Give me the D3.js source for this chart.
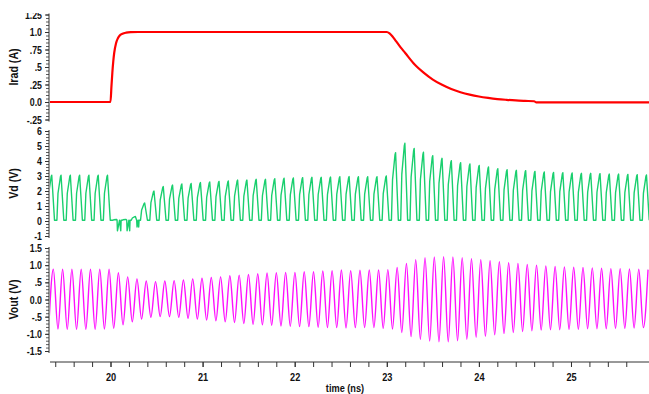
<!DOCTYPE html>
<html><head><meta charset="utf-8">
<script src="https://cdn.jsdelivr.net/npm/d3@7"></script>
<style>
html,body{margin:0;padding:0;background:#fff;}
svg{display:block;}
text{font-family:"Liberation Sans","Arial",sans-serif;font-weight:bold;fill:#111;}
</style></head><body>
<svg id="c" width="649" height="394"></svg>
<script>
// ---------- data ----------
// x axis
const xTickValues = [20, 21, 22, 23, 24, 25];
const xTickLabels = ["20", "21", "22", "23", "24", "25"];
const xDomain = [19.343, 25.847];
const xLabel = "time (ns)";

// Irad (A) : piecewise samples of the pulse
const iradTime = [19.343, 20.0, 20.01, 20.02, 20.03, 20.04, 20.06, 20.08, 20.1, 20.13, 20.17, 20.22, 20.3, 23.0, 23.03, 23.06, 23.1, 23.15, 23.2, 23.3, 23.4, 23.5, 23.6, 23.7, 23.8, 23.9, 24.0, 24.1, 24.2, 24.3, 24.4, 24.5, 24.6, 24.62, 25.847];
const iradValue = [0, 0, 0.22, 0.42, 0.58, 0.7, 0.84, 0.91, 0.95, 0.975, 0.99, 0.997, 1.0, 1.0, 0.98, 0.94, 0.87, 0.78, 0.7, 0.54, 0.42, 0.32, 0.245, 0.185, 0.14, 0.105, 0.078, 0.058, 0.042, 0.031, 0.022, 0.016, 0.011, -0.004, -0.006];
const iradTicks = [-0.25, 0, 0.25, 0.5, 0.75, 1.0, 1.25];
const iradTickLabels = ["-.25", "0.0", ".25", ".5", ".75", "1.0", "1.25"];

// Vd (V) : one pulse per period, peak value of each pulse
const vdStart = 19.362;     // time of first pulse peak (ns)
const period = 0.1009;      // pulse period (ns)
const vdBase = 0.05;
const vdPeak = [3.05, 3.05, 3.05, 3.05, 3.05, 3.05, 3.05,
  0.1, 0.1, 0.3,
  1.2, 2.0, 2.3, 2.4, 2.47, 2.5, 2.56, 2.6, 2.64, 2.67, 2.73, 2.73, 2.78, 2.78, 2.82, 2.85, 2.87, 2.89, 2.91, 2.91, 2.93, 2.95, 2.96,
  2.95, 2.95, 2.95, 3.0,
  4.56, 5.18, 4.84, 4.58, 4.36, 4.18, 4.02, 3.89, 3.8, 3.71, 3.6, 3.49, 3.42, 3.38, 3.36, 3.31, 3.27, 3.24, 3.22, 3.2, 3.18, 3.18, 3.16, 3.13, 3.13, 3.11, 3.09, 3.07];
const vdDipIndex = [7, 8, 9];
const vdDipValue = [-0.65, -0.65, -0.4];
const vdDipStart = [0.003, 0.007, 0.014];
const vdDipEnd = [0.047, 0.043, 0.04];
const vdTicks = [-1, 0, 1, 2, 3, 4, 5, 6];
const vdTickLabels = ["-1", "0", "1", "2", "3", "4", "5", "6"];

// Vout (V) : alternating extremes, trough before each peak
const voStart = 19.379;
const voPeak = [0.88, 0.88, 0.88, 0.88, 0.88, 0.88, 0.88, 0.78, 0.66, 0.6, 0.54, 0.52, 0.54, 0.55, 0.57, 0.6, 0.62, 0.64, 0.66, 0.69, 0.71, 0.73, 0.75, 0.77, 0.78, 0.79, 0.79, 0.81, 0.81, 0.83, 0.84, 0.86,
  0.84, 0.85, 0.86, 0.86, 0.87, 0.93, 1.05, 1.16, 1.22, 1.24, 1.25, 1.24, 1.22, 1.19, 1.16, 1.13, 1.1, 1.07, 1.05, 1.02, 1.0, 0.98, 0.96, 0.95, 0.94, 0.93, 0.92, 0.91, 0.9, 0.9, 0.89, 0.88, 0.87];
const voTrough = [-0.86,
  -0.86, -0.87, -0.87, -0.87, -0.87, -0.86, -0.84, -0.74, -0.65, -0.57, -0.52, -0.5, -0.5, -0.52, -0.55, -0.57, -0.6, -0.62, -0.65, -0.67, -0.7, -0.72, -0.74, -0.75, -0.77, -0.78, -0.79, -0.79, -0.81, -0.82, -0.82, -0.83,
  -0.82, -0.82, -0.82, -0.84, -0.86, -0.96, -1.08, -1.16, -1.21, -1.23, -1.23, -1.2, -1.16, -1.1, -1.07, -1.03, -0.99, -0.96, -0.93, -0.91, -0.89, -0.88, -0.88, -0.87, -0.87, -0.85, -0.85, -0.85, -0.84, -0.84, -0.83, -0.82];
const voTicks = [-1.5, -1.0, -0.5, 0, 0.5, 1.0, 1.5];
const voTickLabels = ["-1.5", "-1.0", "-.5", "0.0", ".5", "1.0", "1.5"];

// ---------- drawing ----------
const svg = d3.select("#c");
const X0 = 50, X1 = 649, YAX = 49, XAXY = 362, SX = 0.8;
const x = d3.scaleLinear().domain(xDomain).range([X0, X1]);

const defs = svg.append("defs");
defs.append("clipPath").attr("id", "plotclip")
  .append("rect").attr("x", 50).attr("y", 0).attr("width", 600).attr("height", 394);
defs.append("clipPath").attr("id", "topclip")
  .append("rect").attr("x", -60).attr("y", 13).attr("width", 120).attr("height", 400);

function narrow(sel) {
  sel.each(function () {
    const t = d3.select(this);
    const xx = +t.attr("x") || 0;
    t.attr("x", xx / SX).attr("transform", `scale(${SX},1)`);
  });
}

const panels = [
  {name: "Irad (A)", dom: [-0.25, 1.25], rng: [119.5, 14.5], ticks: iradTicks, labels: iradTickLabels, minor: 0.05, color: "#ff0000", width: 2.2},
  {name: "Vd (V)", dom: [-1, 6], rng: [236, 131], ticks: vdTicks, labels: vdTickLabels, minor: 0.2, color: "#19cf6e", width: 1.4},
  {name: "Vout (V)", dom: [-1.5, 1.5], rng: [351, 248], ticks: voTicks, labels: voTickLabels, minor: 0.1, color: "#ff10ff", width: 1.4}
];
panels.forEach(p => { p.y = d3.scaleLinear().domain(p.dom).range(p.rng); });

// build series
const iradPts = iradTime.map((t, i) => [t, iradValue[i]]);

const vdPts = [];
vdPeak.forEach((h, k) => {
  const tp = vdStart + k * period;
  vdPts.push([tp - 0.045, vdBase]);
  vdPts.push([tp - 0.033, vdBase + 0.6 * (h - vdBase)]);
  vdPts.push([tp - 0.006, vdBase + 0.97 * (h - vdBase)]);
  vdPts.push([tp, h]);
  vdPts.push([tp + 0.03, vdBase]);
  const di = vdDipIndex.indexOf(k);
  if (di >= 0) {
    vdPts.push([tp + vdDipStart[di], vdBase]);
    vdPts.push([tp + vdDipStart[di] + 0.004, vdDipValue[di]]);
    vdPts.push([tp + vdDipEnd[di] - 0.004, vdDipValue[di]]);
    vdPts.push([tp + vdDipEnd[di], vdBase]);
  }
});
vdPts.sort((a, b) => a[0] - b[0]);
const vdPtsClean = [];
vdPts.forEach(p => { if (!vdPtsClean.length || p[0] > vdPtsClean[vdPtsClean.length - 1][0]) vdPtsClean.push(p); });

const voPts = [];
voPeak.forEach((h, j) => {
  voPts.push([voStart + (j - 0.5) * period, voTrough[j]]);
  voPts.push([voStart + j * period, h]);
});

const series = [
  {pts: iradPts, curve: d3.curveMonotoneX},
  {pts: vdPtsClean, curve: d3.curveLinear},
  {pts: voPts, curve: d3.curveMonotoneX}
];

panels.forEach((p, i) => {
  const wrap = svg.append("g");
  if (i === 0) wrap.attr("clip-path", "url(#topclip)").attr("transform", `translate(${YAX},0)`);
  else wrap.attr("transform", `translate(${YAX},0)`);
  // minor ticks
  const minorVals = d3.range(Math.round(p.dom[0] / p.minor), Math.round(p.dom[1] / p.minor) + 1).map(v => +(v * p.minor).toFixed(4));
  wrap.append("g")
    .call(d3.axisLeft(p.y).tickValues(minorVals).tickSize(3).tickFormat(""))
    .call(g => g.select(".domain").remove())
    .call(g => g.selectAll("line").attr("stroke", "#333").attr("stroke-width", 0.8));
  // major ticks + labels
  const ax = wrap.append("g")
    .call(d3.axisLeft(p.y).tickValues(p.ticks).tickSize(4).tickPadding(3)
      .tickFormat((d, k) => p.labels[k]));
  ax.select(".domain").attr("d", `M0,${p.rng[0] + 2}V${p.rng[1] - 1}`).attr("stroke", "#333");
  ax.selectAll("line").attr("stroke", "#333");
  ax.selectAll("text").style("font-size", "11px").attr("fill", "#111").call(narrow);
  // axis title
  svg.append("text")
    .attr("transform", `translate(15,${(p.rng[0] + p.rng[1]) / 2}) rotate(-90) scale(0.85,1)`)
    .attr("text-anchor", "middle").attr("dominant-baseline", "middle")
    .style("font-size", "12.5px").text(p.name);
  // curve
  const line = d3.line().x(d => x(d[0])).y(d => p.y(d[1])).curve(series[i].curve);
  svg.append("path").datum(series[i].pts)
    .attr("clip-path", "url(#plotclip)")
    .attr("fill", "none").attr("stroke", p.color).attr("stroke-width", p.width)
    .attr("stroke-linejoin", "round")
    .attr("d", line);
});

// x axis
const xMinor = d3.range(97, 129).map(v => +(v * 0.2).toFixed(2));
svg.append("g").attr("transform", `translate(0,${XAXY})`)
  .call(d3.axisBottom(x).tickValues(xMinor).tickSize(5).tickFormat(""))
  .call(g => g.select(".domain").remove())
  .call(g => g.selectAll("line").attr("stroke", "#333"));
const xa = svg.append("g").attr("transform", `translate(0,${XAXY})`)
  .call(d3.axisBottom(x).tickValues(xTickValues).tickSize(5).tickPadding(6)
    .tickFormat((d, k) => xTickLabels[k]));
xa.select(".domain").attr("d", `M${X0},0H${X1}`).attr("stroke", "#333");
xa.selectAll("line").attr("stroke", "#333");
xa.selectAll("text").style("font-size", "11.5px").attr("fill", "#111").call(narrow);
svg.append("text").attr("transform", `translate(345,389) scale(${SX},1)`).attr("text-anchor", "middle")
  .attr("dominant-baseline", "middle").style("font-size", "11.5px").text(xLabel);
</script>
</body></html>
